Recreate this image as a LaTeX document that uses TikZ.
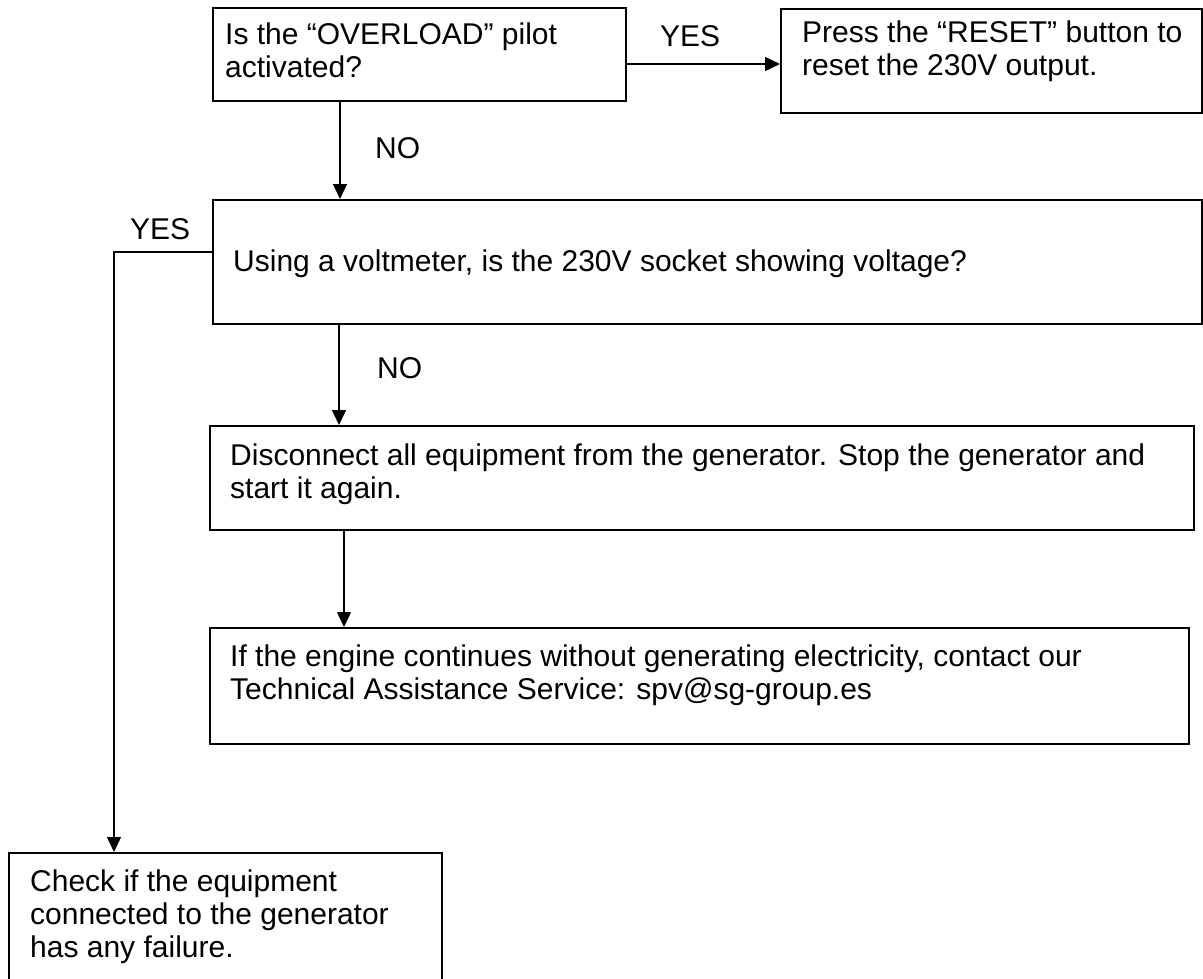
\documentclass[tikz,border=0pt]{standalone}
\usepackage{fontspec}
\setmainfont{Liberation Sans}
\usetikzlibrary{arrows.meta}
\begin{document}
\begin{tikzpicture}[x=1pt,y=-1pt,
  box/.style={draw, line width=1.5pt, inner sep=0pt, anchor=north west},
  txt/.style={anchor=base west, inner sep=0pt, align=left, font=\fontsize{30}{33}\selectfont},
  arr/.style={line width=1.3pt, -{Triangle[length=15pt,width=14pt]}},
  ln/.style={line width=1.3pt}]
\useasboundingbox (0,0) rectangle (1203,978);
\fill[white] (0,0) rectangle (1203,978);
\clip (0,0) rectangle (1203,978);
% boxes
\node[box, minimum width=413pt, minimum height=93pt] (b1) at (212,7) {};
\node[box, minimum width=421pt, minimum height=104pt] (b2) at (780,8) {};
\node[box, minimum width=989pt, minimum height=124pt] (b3) at (212,199) {};
\node[box, minimum width=984pt, minimum height=104pt] (b4) at (209,425) {};
\node[box, minimum width=979pt, minimum height=116pt] (b5) at (209,627) {};
\node[box, minimum width=433pt, minimum height=160pt] (b6) at (8,852) {};
% texts (anchored at the baseline of their last line)
\node[txt] (t1) at (225,77) {Is the “OVERLOAD” pilot\\activated?};
\node[txt] (t2) at (802,75) {Press the “RESET” button to\\reset the 230V output.};
\node[txt] (t3) at (233,271) {Using a voltmeter, is the 230V socket showing voltage?};
\node[txt] (t4) at (230,498) {Disconnect all equipment from the generator. Stop the generator and\\start it again.};
\node[txt] (t5) at (230,699) {If the engine continues without generating electricity, contact our\\Technical Assistance Service: spv@sg-group.es};
\node[txt] (t6) at (30,957) {Check if the equipment\\connected to the generator\\has any failure.};
% labels
\node[txt] (yes1) at (660,46) {YES};
\node[txt] (no1) at (375,158) {NO};
\node[txt] (yes2) at (130,239) {YES};
\node[txt] (no2) at (377,378) {NO};
% connector coordinates
\coordinate (cy) at (0,64);
\coordinate (a1) at (340,0);
\coordinate (a2) at (339,0);
\coordinate (a3) at (344,0);
\coordinate (c1) at (114,252);
% connectors
\draw[arr] (b1.east |- cy) -- (b2.west |- cy);
\draw[arr] (b1.south -| a1) -- (b3.north -| a1);
\draw[arr] (b3.south -| a2) -- (b4.north -| a2);
\draw[arr] (b4.south -| a3) -- (b5.north -| a3);
\draw[arr] (b3.west |- c1) -- (c1) -- (c1 |- b6.north);
\end{tikzpicture}
\end{document}
